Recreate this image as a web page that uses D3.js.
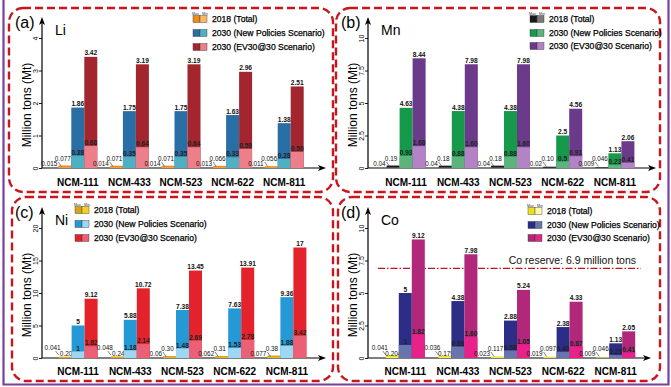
<!DOCTYPE html>
<html>
<head>
<meta charset="utf-8">
<script src="https://cdnjs.cloudflare.com/ajax/libs/d3/7.8.5/d3.min.js"></script>
<style>
  body { margin: 0; background: #fff; }
  svg text { font-family: Arial, 'Liberation Sans', sans-serif; }
</style>
</head>
<body>
<div id="chart"></div>
<script>
// ---------------- data ----------------
var categories = ["NCM-111", "NCM-433", "NCM-523", "NCM-622", "NCM-811"];
var seriesNames = ["2018 (Total)", "2030 (New Policies Scenario)", "2030 (EV30@30 Scenario)"];
var keys = ["y2018", "nps", "ev"];

// Li (values as printed on the chart)
var liMax2018 = ["0.077", "0.071", "0.071", "0.066", "0.056"];
var liMin2018 = ["0.015", "0.014", "0.014", "0.013", "0.011"];
var liMaxNPS = ["1.86", "1.75", "1.75", "1.63", "1.38"];
var liMinNPS = ["0.38", "0.35", "0.35", "0.33", "0.28"];
var liMaxEV = ["3.42", "3.19", "3.19", "2.96", "2.51"];
var liMinEV = ["0.68", "0.64", "0.64", "0.59", "0.50"];
var liTicks = [0, 1, 2, 3, 4];

// Mn
var mnMax2018 = ["0.19", "0.18", "0.18", "0.10", "0.046"];
var mnMin2018 = ["0.04", "0.04", "0.04", "0.02", "0.009"];
var mnMaxNPS = ["4.63", "4.38", "4.38", "2.5", "1.13"];
var mnMinNPS = ["0.93", "0.88", "0.88", "0.5", "0.23"];
var mnMaxEV = ["8.44", "7.98", "7.98", "4.56", "2.06"];
var mnMinEV = ["1.68", "1.60", "1.60", "0.91", "0.41"];
var mnTicks = [0, 2.5, 5, 7.5, 10];

// Ni
var niMax2018 = ["0.20", "0.24", "0.30", "0.31", "0.38"];
var niMin2018 = ["0.041", "0.048", "0.06", "0.062", "0.077"];
var niMaxNPS = ["5", "5.88", "7.38", "7.63", "9.36"];
var niMinNPS = ["1", "1.18", "1.48", "1.53", "1.88"];
var niMaxEV = ["9.12", "10.72", "13.45", "13.91", "17"];
var niMinEV = ["1.82", "2.14", "2.69", "2.78", "3.42"];
var niTicks = [0, 5, 10, 15, 20];

// Co
var coMax2018 = ["0.204", "0.179", "0.117", "0.097", "0.046"];
var coMin2018 = ["0.041", "0.036", "0.023", "0.019", "0.009"];
var coMaxNPS = ["5", "4.38", "2.88", "2.38", "1.13"];
var coMinNPS = ["1", "0.88", "0.58", "0.48", "0.23"];
var coMaxEV = ["9.12", "7.98", "5.24", "4.33", "2.05"];
var coMinEV = ["1.82", "1.60", "1.05", "0.87", "0.41"];
var coTicks = [0, 2.5, 5, 7.5, 10];
var coReserve = 6.9;

// ---------------- panels ----------------
var panels = [
  { tag: "(a)", el: "Li", max: [liMax2018, liMaxNPS, liMaxEV], min: [liMin2018, liMinNPS, liMinEV], ticks: liTicks,
    box: [9, 8, 324, 184], ax: 42, y0: 168, yTop: 38, arrowTop: 17, xEnd: 326, xRange: [52, 310], catY: 185.5,
    colors: [["#ee8a1e", "#f8b968"], ["#2a6ea6", "#4fb0c2"], ["#a3262f", "#ec7f8a"]],
    legX: 193, legY: [19, 33, 47], flip: [0, 0, 0, 0, 0] },
  { tag: "(b)", el: "Mn", max: [mnMax2018, mnMaxNPS, mnMaxEV], min: [mnMin2018, mnMinNPS, mnMinEV], ticks: mnTicks,
    box: [336, 8, 324, 184], ax: 368, y0: 168, yTop: 38, arrowTop: 17, xEnd: 656, xRange: [380, 641], catY: 185.5,
    colors: [["#1a1a1a", "#7a7a7a"], ["#16994a", "#5cb47c"], ["#6c3a8a", "#b483c6"]],
    legX: 530, legY: [19, 33, 46], flip: [0, 0, 0, 0, 0] },
  { tag: "(c)", el: "Ni", max: [niMax2018, niMaxNPS, niMaxEV], min: [niMin2018, niMinNPS, niMinEV], ticks: niTicks,
    box: [12, 197, 321, 184], ax: 42, y0: 358, yTop: 228, arrowTop: 207, xEnd: 326, xRange: [52, 313], catY: 375,
    colors: [["#d8a31e", "#f6d21e"], ["#2598d6", "#9fd6f2"], ["#e3222b", "#ec6075"]],
    legX: 75, legY: [210, 224, 238], flip: [1, 1, 0, 0, 0] },
  { tag: "(d)", el: "Co", max: [coMax2018, coMaxNPS, coMaxEV], min: [coMin2018, coMinNPS, coMinEV], ticks: coTicks,
    box: [338, 197, 322, 184], ax: 368, y0: 358, yTop: 228, arrowTop: 207, xEnd: 651, xRange: [379, 642], catY: 375,
    colors: [["#ebe11e", "#fff7b2"], ["#2c2d87", "#6676ad"], ["#b1277a", "#e7228b"]],
    legX: 528, legY: [211, 225, 238], flip: [1, 1, 0, 0, 0], reserve: coReserve }
];

var W = 671, H = 387;
var svg = d3.select("#chart").append("svg")
  .attr("width", W).attr("height", H);

svg.append("rect").attr("width", W).attr("height", H).attr("fill", "#fff");

// purple frame around the figure (left, right, bottom)
svg.append("path")
  .attr("d", "M3.5,0 V384.5 H668.5 V0")
  .attr("fill", "none").attr("stroke", "#7b3f9e").attr("stroke-width", 2.2);

panels.forEach(drawPanel);

function drawPanel(p) {
  var g = svg.append("g");

  // dashed rounded box
  g.append("rect")
    .attr("x", p.box[0]).attr("y", p.box[1]).attr("width", p.box[2]).attr("height", p.box[3])
    .attr("rx", 14).attr("ry", 14)
    .attr("fill", "none").attr("stroke", "#c8161d").attr("stroke-width", 2.4)
    .attr("stroke-dasharray", "8,4");

  var y = d3.scaleLinear().domain([0, d3.max(p.ticks)]).range([p.y0, p.yTop]);
  var x0 = d3.scaleBand().domain(categories).range(p.xRange);
  var x1 = d3.scaleBand().domain(keys).range([0, 39]);
  var off = (x0.bandwidth() - 39) / 2;

  // y axis ticks + labels
  var yAxis = d3.axisLeft(y).tickValues(p.ticks).tickSize(3).tickFormat(function(d) { return d; });
  var ga = g.append("g").attr("transform", "translate(" + p.ax + ",0)").call(yAxis);
  ga.select(".domain").remove();
  ga.selectAll(".tick line").attr("stroke", "#000").attr("stroke-width", 0.9);
  ga.selectAll(".tick text")
    .attr("x", 0).attr("dy", 0)
    .attr("transform", "translate(-4,0) rotate(-90)")
    .attr("text-anchor", "middle")
    .attr("font-size", 7).attr("fill", "#000");

  // axis lines with arrows
  g.append("line").attr("x1", p.ax).attr("x2", p.ax).attr("y1", p.y0).attr("y2", p.arrowTop + 6)
    .attr("stroke", "#000").attr("stroke-width", 1.2);
  g.append("path")
    .attr("d", "M" + p.ax + "," + p.arrowTop + " l-3,8 l3,-2 l3,2 z").attr("fill", "#000");
  g.append("line").attr("x1", p.ax).attr("x2", p.xEnd - 6).attr("y1", p.y0).attr("y2", p.y0)
    .attr("stroke", "#000").attr("stroke-width", 1.2);
  g.append("path")
    .attr("d", "M" + p.xEnd + "," + p.y0 + " l-8,-3 l2,3 l-2,3 z").attr("fill", "#000");

  // y title
  g.append("text")
    .attr("transform", "translate(" + (p.ax - 11) + "," + ((p.y0 + p.yTop) / 2 + 2) + ") rotate(-90)")
    .attr("text-anchor", "middle").attr("font-size", 12).attr("fill", "#000")
    .text("Million tons (Mt)");

  // panel tag and element
  g.append("text").attr("x", p.ax - 27).attr("y", p.arrowTop + 11)
    .attr("font-size", 16).attr("fill", "#000").text(p.tag);
  g.append("text").attr("x", p.ax + 13).attr("y", p.arrowTop + 18)
    .attr("font-size", 14).attr("fill", "#000").text(p.el);

  // category labels
  g.selectAll(".cat").data(categories).enter().append("text")
    .attr("x", function(d) { return x0(d) + x0.bandwidth() / 2; })
    .attr("y", p.catY)
    .attr("text-anchor", "middle").attr("font-size", 10).attr("font-weight", "bold")
    .text(function(d) { return d; });

  // reserve line (Co)
  if (p.reserve) {
    g.append("line")
      .attr("x1", p.ax + 10).attr("x2", p.xEnd - 10)
      .attr("y1", y(p.reserve)).attr("y2", y(p.reserve))
      .attr("stroke", "#c0141c").attr("stroke-width", 1.2)
      .attr("stroke-dasharray", "7,2,1.5,2");
    g.append("text").attr("x", p.xEnd - 15).attr("y", y(p.reserve) - 4)
      .attr("text-anchor", "end").attr("font-size", 10.5).attr("fill", "#111")
      .text("Co reserve: 6.9  million tons");
  }

  // bars
  categories.forEach(function(cat, i) {
    keys.forEach(function(k, j) {
      var xl = x0(cat) + off + x1(k), bw = x1.bandwidth();
      var vMax = +p.max[j][i], vMin = +p.min[j][i];
      g.append("rect").attr("x", xl).attr("y", y(vMax)).attr("width", bw).attr("height", p.y0 - y(vMax))
        .attr("fill", p.colors[j][0]);
      g.append("rect").attr("x", xl).attr("y", y(vMin)).attr("width", bw).attr("height", p.y0 - y(vMin))
        .attr("fill", p.colors[j][1]);

      if (j > 0) {
        g.append("text").attr("x", xl + bw / 2).attr("y", y(vMax) - 1.5)
          .attr("text-anchor", "middle").attr("font-size", 6.6).attr("font-weight", "bold").attr("fill", "#111")
          .text(p.max[j][i]);
        g.append("text").attr("x", xl + bw / 2).attr("y", y(vMin) - 0.8)
          .attr("text-anchor", "middle").attr("font-size", 6.6).attr("font-weight", "bold").attr("fill", "#222")
          .text(p.min[j][i]);
      } else {
        var cx = xl + bw / 2;
        var lo = p.min[0][i], hi = p.max[0][i];
        if (p.flip[i]) {
          // small value upper-left, large value lower-right
          g.append("text").attr("x", xl + 2).attr("y", p.y0 - 8).attr("text-anchor", "end")
            .attr("font-size", 6.4).attr("fill", "#111").text(lo);
          g.append("text").attr("x", cx + 1).attr("y", p.y0 - 2).attr("text-anchor", "middle")
            .attr("font-size", 6.4).attr("fill", "#111").text(hi);
          g.append("line").attr("x1", xl - 3).attr("y1", p.y0 - 7).attr("x2", xl).attr("y2", p.y0 - 3)
            .attr("stroke", "#333").attr("stroke-width", 0.6);
        } else {
          g.append("text").attr("x", xl - 1).attr("y", p.y0 - 2).attr("text-anchor", "end")
            .attr("font-size", 6.4).attr("fill", "#111").text(lo);
          g.append("text").attr("x", cx - 2).attr("y", p.y0 - 7).attr("text-anchor", "middle")
            .attr("font-size", 6.4).attr("fill", "#111").text(hi);
          g.append("line").attr("x1", xl).attr("y1", p.y0 - 6).attr("x2", xl + 3).attr("y2", p.y0 - 1.5)
            .attr("stroke", "#333").attr("stroke-width", 0.6);
        }
      }
    });
  });

  // legend
  var lg = g.append("g");
  lg.append("text").attr("x", p.legX + 7).attr("y", p.legY[0] - 4.5)
    .attr("text-anchor", "middle").attr("font-size", 3.6).attr("fill", "#333").text("Max · Min");
  seriesNames.forEach(function(name, j) {
    var yy = p.legY[j];
    lg.append("rect").attr("x", p.legX).attr("y", yy - 3.5).attr("width", 7).attr("height", 7)
      .attr("fill", p.colors[j][0]).attr("stroke", "#333").attr("stroke-width", 0.4);
    lg.append("rect").attr("x", p.legX + 7).attr("y", yy - 3.5).attr("width", 7).attr("height", 7)
      .attr("fill", p.colors[j][1]).attr("stroke", "#333").attr("stroke-width", 0.4);
    lg.append("text").attr("x", p.legX + 19).attr("y", yy + 3)
      .attr("font-size", 8.6).attr("fill", "#000")
      .attr("stroke", "#000").attr("stroke-width", 0.25)
      .text(name);
  });
}
</script>
</body>
</html>
